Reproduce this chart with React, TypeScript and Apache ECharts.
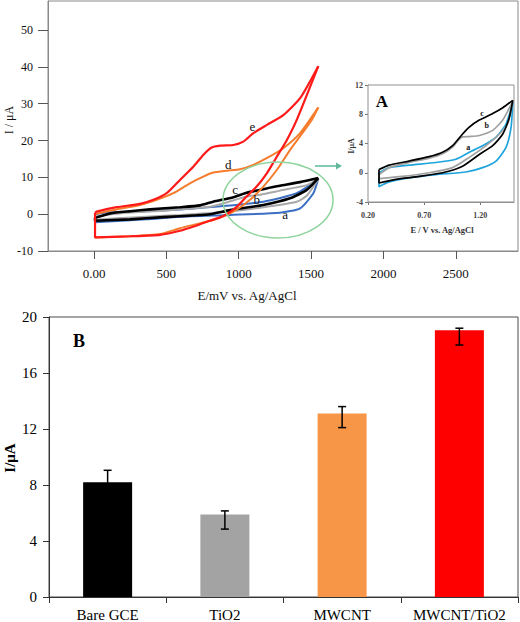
import React, { useEffect, useRef } from "react";
import * as echarts from "echarts";

// ---------- Main CV plot (E / mV, I / µA) ----------
const cvTicksX = [0, 500, 1000, 1500, 2000, 2500];
const cvTicksY = [-10, 0, 10, 20, 30, 40, 50];

const eForward = [[7, 0.3], [18, 0.7], [157, 1.9], [318, 2.8], [410, 3.9], [502, 5.7], [594, 9.3], [686, 12.9], [755, 16.1], [813, 18.1], [871, 18.6], [963, 18.8], [1032, 19.7], [1101, 22.0], [1193, 24.2], [1308, 26.9], [1424, 31.5], [1550, 40.2]];
const eReturn = [[1550, 40.2], [1401, 25.6], [1332, 20.1], [1263, 15.6], [1194, 11.1], [1124, 7.5], [1055, 4.8], [986, 2.0], [894, -0.5], [800, -1.8], [700, -3.2], [594, -4.5], [456, -5.6], [249, -6.0], [7, -6.3], [7, 0.3]];
const dForward = [[7, 0.0], [18, 0.2], [157, 1.3], [318, 2.5], [433, 3.9], [548, 5.7], [663, 8.4], [755, 10.2], [824, 11.3], [917, 11.8], [1009, 12.2], [1101, 13.4], [1193, 15.2], [1308, 17.9], [1424, 22.0], [1550, 29.0]];
const dReturn = [[1550, 29.0], [1505, 25.6], [1354, 17.4], [1263, 12.0], [1170, 7.5], [1078, 3.9], [963, 0.7], [824, -1.6], [686, -2.9], [594, -3.8], [456, -5.4], [249, -6.0], [7, -6.3], [7, 0.0]];
const cForward = [[7, -1.0], [111, 0.2], [250, 0.8], [387, 1.3], [594, 1.9], [733, 2.4], [824, 3.4], [963, 4.6], [1055, 5.8], [1193, 7.0], [1285, 7.7], [1424, 8.7], [1550, 9.8]];
const cReturn = [[1550, 9.8], [1470, 6.6], [1354, 4.3], [1170, 2.5], [939, 1.1], [802, 0.0], [709, -0.3], [479, -0.8], [249, -1.4], [7, -1.8], [7, -1.0]];
const bForward = [[7, -0.6], [200, 0.3], [500, 1.0], [800, 2.0], [900, 3.0], [1055, 4.8], [1150, 5.3], [1285, 6.4], [1470, 7.9], [1550, 9.5]];
const bReturn = [[1550, 9.5], [1470, 5.0], [1401, 3.4], [1170, 1.9], [900, 0.6], [600, -0.2], [300, -0.8], [7, -1.5], [7, -0.6]];
const aForward = [[7, 0.0], [111, 0.5], [364, 0.8], [594, 1.3], [894, 2.2], [1170, 3.4], [1401, 5.7], [1550, 9.6]];
const aReturn = [[1550, 9.6], [1516, 5.7], [1424, 1.6], [1285, 0.4], [939, -0.2], [594, -0.7], [364, -1.4], [7, -2.2], [7, 0.0]];
const cvLabelX = [1094, 928, 976, 1124, 1320];
const cvLabelY = [23.8, 13.5, 6.6, 3.9, 0.0];
const cvLabelText = ["e", "d", "c", "b", "a"];

// ---------- Inset A (E / V, I / µA) ----------
const insetTicksX = [0.2, 0.7, 1.2];
const inCForward = [[0.298, 0.45], [0.388, 1.05], [0.566, 1.6], [0.745, 2.2], [0.864, 2.8], [0.953, 3.7], [1.042, 5.3], [1.102, 6.25], [1.191, 7.2], [1.31, 8.1], [1.4, 8.9], [1.489, 9.9]];
const inCReturn = [[1.489, 9.9], [1.459, 7.6], [1.4, 5.3], [1.31, 3.7], [1.191, 2.5], [1.042, 0.9], [0.864, 0.0], [0.655, -0.5], [0.447, -0.9], [0.298, -1.4], [0.298, 0.45]];
const inBForward = [[0.298, -0.25], [0.388, 0.7], [0.566, 1.4], [0.745, 2.0], [0.864, 2.6], [0.953, 3.5], [1.0, 4.4], [1.042, 4.9], [1.102, 4.95], [1.191, 5.1], [1.31, 5.8], [1.4, 7.2], [1.489, 9.8]];
const inBReturn = [[1.489, 9.8], [1.444, 6.7], [1.37, 5.3], [1.251, 3.7], [1.102, 2.1], [0.953, 0.7], [0.745, 0.0], [0.506, -0.5], [0.298, -0.8], [0.298, -0.25]];
const inAForward = [[0.298, 0.0], [0.388, 0.7], [0.566, 1.05], [0.804, 1.4], [0.983, 1.85], [1.102, 2.8], [1.22, 3.7], [1.34, 4.85], [1.43, 6.7], [1.489, 9.6]];
const inAReturn = [[1.489, 9.6], [1.474, 6.25], [1.43, 3.5], [1.34, 1.6], [1.22, 0.7], [1.072, 0.1], [0.804, -0.25], [0.566, -0.7], [0.388, -1.25], [0.298, -1.9], [0.298, 0.0]];
const inLabelX = [1.215, 1.256, 1.093];
const inLabelY = [8.1, 6.5, 3.4];
const inLabelText = ["c", "b", "a"];

// ---------- Bar chart B ----------
const barCategories = ["Bare GCE", "TiO2", "MWCNT", "MWCNT/TiO2"];
const barValues = [8.2, 5.9, 13.1, 19.05];
const errLow = [7.35, 4.85, 12.1, 18.0];
const errHigh = [9.05, 6.15, 13.6, 19.2];
const barColors = ["#000000", "#a3a3a3", "#f79646", "#ff0000"];

const SERIF = "'Liberation Serif', 'Times New Roman', serif";

export default function App() {
  const ref = useRef<HTMLDivElement>(null);
  useEffect(() => {
    if (!ref.current) return;
    const chart = echarts.init(ref.current, undefined, { renderer: "svg" });
    const loop = (axis: number, fwd: number[][], ret: number[][], color: string, width: number, z: number) =>
      [fwd, ret].map((data) => ({
        type: "line", xAxisIndex: axis, yAxisIndex: axis, data, showSymbol: false, symbol: "none",
        smooth: 0.2, lineStyle: { color, width }, z, silent: true,
      }));
    const labelSeries = (axis: number, xs: number[], ys: number[], texts: string[], font: string, z: number) => ({
      type: "custom", xAxisIndex: axis, yAxisIndex: axis, z, silent: true,
      itemStyle: { color: "#111111" },
      data: xs.map((x, i) => [x, ys[i], i]),
      encode: { x: 0, y: 1 },
      renderItem: (params: any, api: any) => {
        const p = api.coord([api.value(0), api.value(1)]);
        return {
          type: "text", x: p[0], y: p[1],
          style: {
            text: texts[api.value(2)], font, fill: "#111111", stroke: "none", lineWidth: 0,
            textAlign: "center", textVerticalAlign: "middle",
          },
        };
      },
    });
    const option: any = {
      animation: false,
      backgroundColor: "#ffffff",
      grid: [
        { left: 48, top: 1, width: 470, height: 250, show: true, borderColor: "#8a8a8a", borderWidth: 1, backgroundColor: "transparent", z: 0 },
        { left: 368, top: 85, width: 146, height: 117, show: true, borderColor: "#909090", borderWidth: 1, backgroundColor: "#ffffff", z: 4 },
        { left: 49, top: 317, width: 469, height: 281, show: true, borderColor: "#4a4a4a", borderWidth: 1, backgroundColor: "transparent" },
      ],
      xAxis: [
        {
          type: "value", gridIndex: 0, min: -318, max: 2930, splitLine: { show: false },
          axisLine: { show: true, onZero: false, lineStyle: { color: "#8a8a8a" } },
          axisTick: { show: true, customValues: cvTicksX, length: 8, lineStyle: { color: "#555" } },
          axisLabel: { customValues: cvTicksX, formatter: (v: number) => (v === 0 ? "0.00" : String(v)), fontFamily: SERIF, fontSize: 13, color: "#111", margin: 16 },
        },
        {
          type: "value", gridIndex: 1, min: 0.2, max: 1.5, splitLine: { show: false },
          axisLine: { show: true, onZero: false, lineStyle: { color: "#909090" } },
          axisTick: { show: true, customValues: insetTicksX, length: 3, lineStyle: { color: "#777" } },
          axisLabel: { customValues: insetTicksX, formatter: (v: number) => v.toFixed(2), fontFamily: SERIF, fontSize: 8, fontWeight: "bold", color: "#444", margin: 9 },
        },
        {
          type: "category", gridIndex: 2, data: barCategories, boundaryGap: true,
          axisLine: { show: true, lineStyle: { color: "#333" } },
          axisTick: { show: true, length: 6, lineStyle: { color: "#333" } },
          axisLabel: { interval: 0, fontFamily: SERIF, fontSize: 15, color: "#000", margin: 10 },
        },
      ],
      yAxis: [
        {
          type: "value", gridIndex: 0, min: -10, max: 57.9, splitLine: { show: false },
          axisLine: { show: true, onZero: false, lineStyle: { color: "#8a8a8a" } },
          axisTick: { show: true, customValues: cvTicksY, length: 10, lineStyle: { color: "#555" } },
          axisLabel: { customValues: cvTicksY, fontFamily: SERIF, fontSize: 12, color: "#111", margin: 15 },
        },
        {
          type: "value", gridIndex: 1, min: -4, max: 12, interval: 4, splitLine: { show: false },
          axisLine: { show: true, onZero: false, lineStyle: { color: "#909090" } },
          axisTick: { show: true, length: 3, lineStyle: { color: "#777" } },
          axisLabel: { fontFamily: SERIF, fontSize: 8, fontWeight: "bold", color: "#444", margin: 5 },
        },
        {
          type: "value", gridIndex: 2, min: 0, max: 20, interval: 4, splitLine: { show: false },
          axisLine: { show: true, lineStyle: { color: "#333" } },
          axisTick: { show: true, length: 6, lineStyle: { color: "#333" } },
          axisLabel: { fontFamily: SERIF, fontSize: 15, color: "#000", margin: 12 },
        },
      ],
      series: [
        ...loop(0, aForward, aReturn, "#3b6fc4", 2, 3),
        ...loop(0, bForward, bReturn, "#a8a8a8", 2, 3),
        ...loop(0, cForward, cReturn, "#000000", 2.6, 3),
        ...loop(0, dForward, dReturn, "#f47c2c", 2, 3),
        ...loop(0, eForward, eReturn, "#ff1a1a", 2.2, 3),
        labelSeries(0, cvLabelX, cvLabelY, cvLabelText, `13px ${SERIF}`, 5),
        ...loop(1, inAForward, inAReturn, "#1ea4dc", 1.7, 6),
        ...loop(1, inBForward, inBReturn, "#a0a0a0", 1.7, 6),
        ...loop(1, inCForward, inCReturn, "#000000", 1.7, 6),
        labelSeries(1, inLabelX, inLabelY, inLabelText, `bold 8px ${SERIF}`, 7),
        {
          type: "bar", xAxisIndex: 2, yAxisIndex: 2, barWidth: 49,
          data: barValues.map((v, i) => ({ value: v, itemStyle: { color: barColors[i] } })),
        },
        {
          type: "custom", xAxisIndex: 2, yAxisIndex: 2, z: 10,
          data: barCategories.map((_, i) => [i, errLow[i], errHigh[i]]),
          encode: { x: 0, y: [1, 2] },
          renderItem: (params: any, api: any) => {
            const i = api.value(0);
            const lo = api.coord([i, api.value(1)]);
            const hi = api.coord([i, api.value(2)]);
            const hw = 4;
            const st = { stroke: "#000", lineWidth: 1.5 };
            return {
              type: "group",
              children: [
                { type: "line", shape: { x1: lo[0], y1: lo[1], x2: hi[0], y2: hi[1] }, style: st },
                { type: "line", shape: { x1: lo[0] - hw, y1: lo[1], x2: lo[0] + hw, y2: lo[1] }, style: st },
                { type: "line", shape: { x1: hi[0] - hw, y1: hi[1], x2: hi[0] + hw, y2: hi[1] }, style: st },
              ],
            };
          },
        },
      ],
      graphic: [
        { type: "text", x: 9, y: 120, rotation: Math.PI / 2, style: { text: "I / μA", font: `12px ${SERIF}`, fill: "#111", textAlign: "center", textVerticalAlign: "middle" } },
        { type: "text", x: 247, y: 295, style: { text: "E/mV vs. Ag/AgCl", font: `13px ${SERIF}`, fill: "#111", textAlign: "center", textVerticalAlign: "middle" } },
        { type: "ellipse", shape: { cx: 278, cy: 200, rx: 55, ry: 38 }, style: { fill: "none", stroke: "#8fd49c", lineWidth: 1.5 }, z: 8 },
        { type: "line", shape: { x1: 315, y1: 166, x2: 336, y2: 166 }, style: { stroke: "#5fb99a", lineWidth: 1.5 }, z: 8 },
        { type: "polygon", shape: { points: [[336, 162.5], [342, 166], [336, 169.5]] }, style: { fill: "#5fb99a" }, z: 8 },
        { type: "text", x: 382, y: 101, style: { text: "A", font: `bold 17px ${SERIF}`, fill: "#000", textAlign: "center", textVerticalAlign: "middle" }, z: 9 },
        { type: "text", x: 442, y: 230, style: { text: "E / V vs. Ag/AgCl", font: `bold 8.5px ${SERIF}`, fill: "#333", textAlign: "center", textVerticalAlign: "middle" }, z: 9 },
        { type: "text", x: 351, y: 146, rotation: Math.PI / 2, style: { text: "I/μA", font: `bold 8px ${SERIF}`, fill: "#333", textAlign: "center", textVerticalAlign: "middle" }, z: 9 },
        { type: "text", x: 79, y: 341, style: { text: "B", font: `bold 18px ${SERIF}`, fill: "#000", textAlign: "center", textVerticalAlign: "middle" } },
        { type: "text", x: 10, y: 458, rotation: Math.PI / 2, style: { text: "I/μA", font: `bold 15px ${SERIF}`, fill: "#000", textAlign: "center", textVerticalAlign: "middle" } },
      ],
    };
    chart.setOption(option);
    return () => chart.dispose();
  }, []);
  return <div ref={ref} style={{ position: "fixed", left: 0, top: 0, width: 520, height: 622 }} />;
}
